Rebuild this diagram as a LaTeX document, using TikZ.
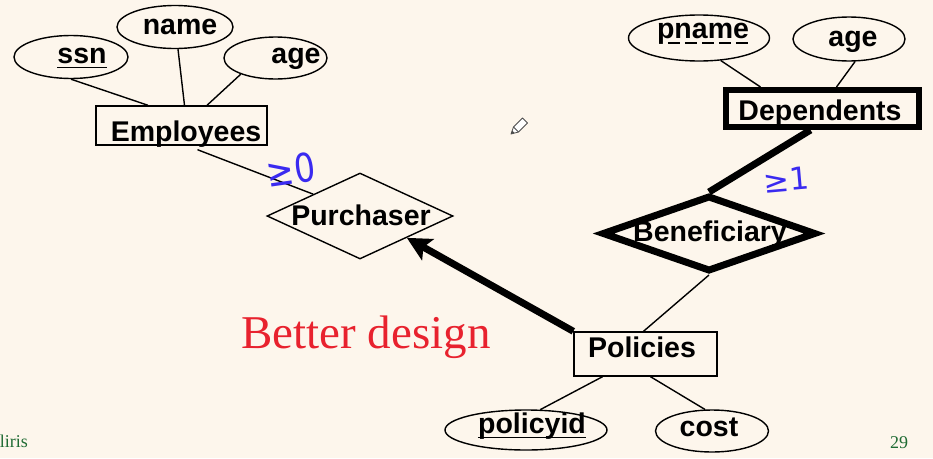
\documentclass[tikz,border=0pt]{standalone}
\usepackage{fontspec}
\setmainfont{Liberation Sans}
\newfontfamily\serifhd{Liberation Serif}
\newfontfamily\djv{DejaVu Sans}
\usetikzlibrary{shapes.geometric,arrows.meta,calc}
\definecolor{bg}{HTML}{FDF6EC}
\definecolor{ink}{HTML}{3A2AF0}
\definecolor{redt}{HTML}{E8222E}
\definecolor{greent}{HTML}{1F6B33}
\begin{document}
\begin{tikzpicture}[x=1pt,y=-1pt,
  lbl/.style={font=\fontsize{28.5}{30}\selectfont\bfseries, inner sep=0pt, anchor=base},
  attr/.style={draw, ellipse, line width=1.4pt, inner sep=0pt},
  ent/.style={draw, rectangle, line width=1.4pt, inner sep=0pt},
  rel/.style={draw, diamond, line width=1.4pt, inner sep=0pt},
  conn/.style={line width=1.4pt},
  heavy/.style={line width=7pt},
  hand/.style={text=ink, inner sep=0pt},
  foot/.style={font=\serifhd\fontsize{18}{20}\selectfont, text=greent, inner sep=0pt}
]
\fill[bg] (0,0) rectangle (933,458);
\useasboundingbox (0,0) rectangle (933,458);

% attribute ellipses
\node[attr, minimum width=114pt, minimum height=43pt] (ssn) at (71,57) {};
\node[attr, minimum width=116pt, minimum height=43pt] (name) at (175,27) {};
\node[attr, minimum width=103pt, minimum height=42pt] (ageL) at (275.5,58) {};
\node[attr, minimum width=141pt, minimum height=46pt] (pname) at (699,38) {};
\node[attr, minimum width=112pt, minimum height=44pt] (ageR) at (849,39) {};
\node[attr, minimum width=162pt, minimum height=40pt] (pid) at (526,430) {};
\node[attr, minimum width=113pt, minimum height=42pt] (cost) at (712,431) {};

% entities
\node[ent, minimum width=171pt, minimum height=39pt] (emp) at (181.5,125.5) {};
\node[ent, line width=6pt, minimum width=193pt, minimum height=37pt] (dep) at (822.5,108.5) {};
\node[ent, minimum width=143pt, minimum height=44pt] (pol) at (645.5,354) {};

% relationships
\node[rel, minimum width=186pt, minimum height=86pt] (purch) at (360,216) {};
\node[rel, line width=7pt, minimum width=214pt, minimum height=76pt] (ben) at (709,233.5) {};

% labels
\node[lbl] (ssnt) at (82,63) {ssn};
\node[lbl] (namet) at (180,34) {name};
\node[lbl] (ageLt) at (296,63) {age};
\node[lbl] (empt) at (186,141) {Employees};
\node[lbl] (purcht) at (361,225) {Purchaser};
\node[lbl] (dept) at (820,120) {Dependents};
\node[lbl] (pnamet) at (703,38) {pname};
\node[lbl] (ageRt) at (853,46) {age};
\node[lbl] (bent) at (710,241) {Beneficiary};
\node[lbl] (polt) at (642,357) {Policies};
\node[lbl] (pidt) at (532,433) {policyid};
\node[lbl] (costt) at (709,436) {cost};

% key underlines
\draw[line width=1.6pt] ([yshift=-4.5pt]ssnt.base west) -- ([yshift=-4.5pt]ssnt.base east);
\draw[line width=1.6pt] ([yshift=-4.5pt]pidt.base west) -- ([yshift=-4.5pt]pidt.base east);
\draw[line width=1.6pt, dash pattern=on 12pt off 5pt] ([xshift=11pt,yshift=-5pt]pnamet.base west) -- ([xshift=2pt,yshift=-5pt]pnamet.base east);

% connectors
\draw[conn] (ssn.south) -- ([xshift=-33.5pt]emp.north);
\draw[conn] ([xshift=3pt]name.south) -- ([xshift=3pt]emp.north);
\draw[conn] (ageL.205) -- ([xshift=25.5pt]emp.north);
\draw[conn] ([xshift=16pt,yshift=-4pt]emp.south) -- (purch.north west);
\draw[heavy, -{Stealth[length=24pt,width=24pt,inset=5pt]}] (pol.north west) -- (purch.south east);
\draw[conn] (pname.314) -- ([xshift=-62pt]dep.north);
\draw[conn] (ageR.285) -- ([xshift=14pt]dep.north);
\draw[heavy] ([xshift=-12pt]dep.south) -- (ben.north);
\draw[conn] (ben.south) -- ([xshift=-2pt]pol.north);
\draw[conn] ([xshift=-43pt]pol.south) -- (pid.55);
\draw[conn] ([xshift=5pt]pol.south) -- (cost.108);

% handwritten cardinalities
\node[hand, rotate=8] (ge0) at (291,170) {\djv\fontsize{33}{33}\selectfont\scalebox{1}[1.2]{≥0}};
\node[hand, rotate=5] (ge1) at (786,180) {\djv\fontsize{31}{31}\selectfont ≥1};

% title text
\node[font=\serifhd\fontsize{47}{50}\selectfont, text=redt, anchor=base, inner sep=0pt] (bd) at (366,348) {Better design};

% footer
\node[foot, anchor=base east] (ftl) at (28,447) {liris};
\node[foot, anchor=base] (ftr) at (899,448) {29};

% pencil cursor
\draw[fill=white, draw=black!70, line width=0.8pt, line join=round]
  (511,134) -- (513.5,127) -- (522.5,118) -- (527.5,123) -- (518.5,132) -- cycle;
\draw[draw=black!70, line width=0.8pt] (513.5,127) -- (518.5,132);
\fill[black!70] (511,134) -- (512.2,130.5) -- (514.5,132.8) -- cycle;
\end{tikzpicture}
\end{document}
